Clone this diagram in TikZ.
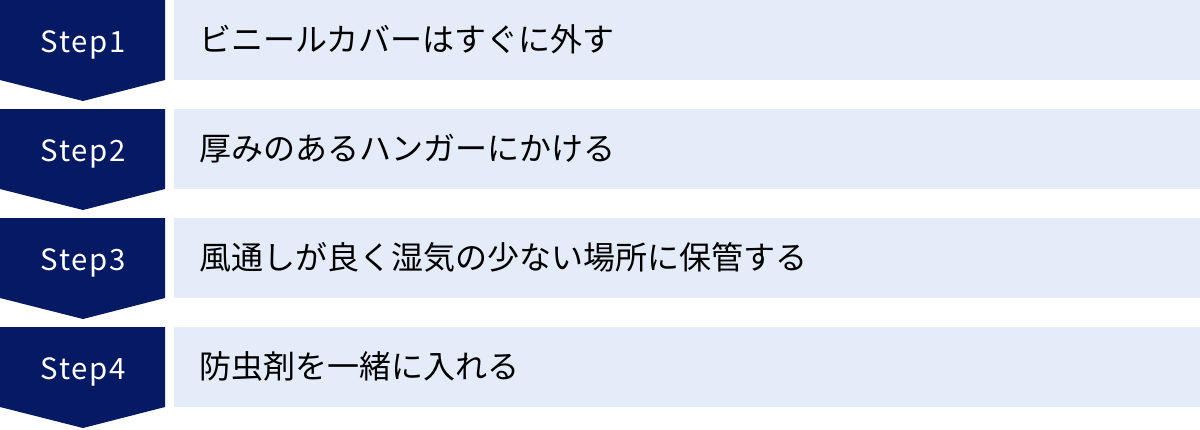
\documentclass[tikz,border=0pt]{standalone}
\usepackage{fontspec}
\setmainfont{Noto Sans CJK JP}
\usetikzlibrary{positioning}

\definecolor{stepnavy}{HTML}{061A63}
\definecolor{rowblue}{HTML}{E5ECF9}

\begin{document}
\begin{tikzpicture}[%
        x = 0.75pt, y = -0.75pt,
        stepmark/.style = {fill = stepnavy, draw = none},
        steplabel/.style = {text = white, font = \fontsize{22}{26}\selectfont, anchor = base, inner sep = 0pt},
        rowbox/.style = {fill = rowblue, draw = none},
        rowtext/.style = {text = black, font = \fontsize{24}{28}\selectfont, anchor = base west, inner sep = 0pt}
    ]

        % Fix the page to the size of the reference.
        \useasboundingbox (0, 0) rectangle (1200, 429);

        % Positions for the corners of each row.
        \coordinate (R1) at (0, 0);
        \coordinate (R2) at (0, 109);
        \coordinate (R3) at (0, 218);
        \coordinate (R4) at (0, 327);

        % The navy step markers, each with a point below.
        \fill[stepmark] (R1) -- ++(165, 0) -- ++(0, 80) -- ++(-82, 21) -- ++(-83, -21) -- cycle;
        \fill[stepmark] (R2) -- ++(165, 0) -- ++(0, 80) -- ++(-82, 21) -- ++(-83, -21) -- cycle;
        \fill[stepmark] (R3) -- ++(165, 0) -- ++(0, 80) -- ++(-82, 21) -- ++(-83, -21) -- cycle;
        \fill[stepmark] (R4) -- ++(165, 0) -- ++(0, 80) -- ++(-82, 21) -- ++(-83, -21) -- cycle;

        % The light bands behind the texts.
        \fill[rowbox] (174, 0) rectangle (1200, 80);
        \fill[rowbox] (174, 109) rectangle (1200, 189);
        \fill[rowbox] (174, 218) rectangle (1200, 298);
        \fill[rowbox] (174, 327) rectangle (1200, 407);

        % Step labels, letter-spaced a little.
        \node[steplabel] (S1) at (83, 52) {S\kern1.2pt t\kern1.2pt e\kern1.2pt p\kern1.2pt 1};
        \node[steplabel] (S2) at (83, 161) {S\kern1.2pt t\kern1.2pt e\kern1.2pt p\kern1.2pt 2};
        \node[steplabel] (S3) at (83, 270) {S\kern1.2pt t\kern1.2pt e\kern1.2pt p\kern1.2pt 3};
        \node[steplabel] (S4) at (83, 379) {S\kern1.2pt t\kern1.2pt e\kern1.2pt p\kern1.2pt 4};

        % Texts of the steps.
        \node[rowtext] (T1) at (199, 51) {ビニールカバーはすぐに外す};
        \node[rowtext] (T2) at (199, 160) {厚みのあるハンガーにかける};
        \node[rowtext] (T3) at (199, 269) {風通しが良く湿気の少ない場所に保管する};
        \node[rowtext] (T4) at (199, 378) {防虫剤を一緒に入れる};
    \end{tikzpicture}
\end{document}
